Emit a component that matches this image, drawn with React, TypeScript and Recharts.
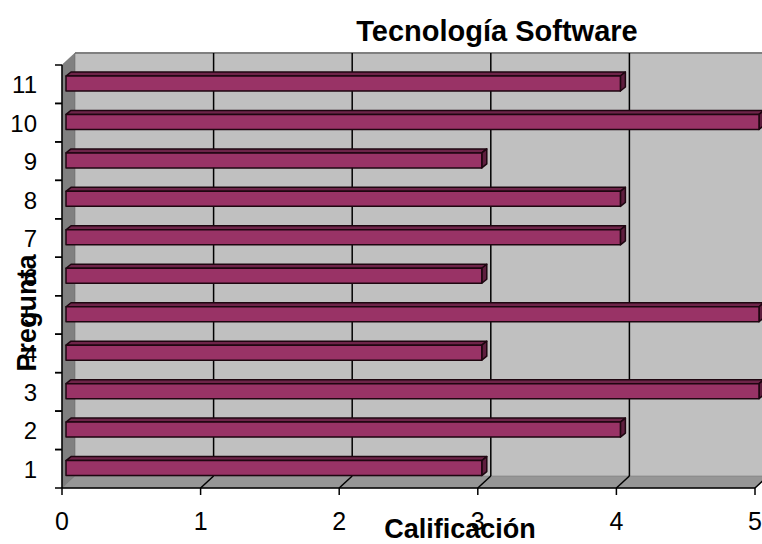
import { Bar, BarChart, ReferenceArea, XAxis, YAxis } from "recharts";

const preguntas = ["1", "2", "3", "4", "5", "6", "7", "8", "9", "10", "11"];
const calificacion = [3, 4, 5, 3, 5, 3, 4, 4, 3, 5, 4];
const xTicks = [0, 1, 2, 3, 4, 5];

const data = preguntas.map((p, i) => ({ pregunta: p, valor: calificacion[i] }));

// depth of the 3D box and of the bars
const DX = 13;
const DY = -12;
const BDX = 5;
const BDY = -4;

const FONT = "Arial, 'Liberation Sans', sans-serif";
const xMax = xTicks[xTicks.length - 1];

// back wall, left wall, floor and the gridlines on them
const Walls = (props: any) => {
  const { x, y, width, height } = props;
  const b = y + height;
  return (
    <g>
      <rect x={x + DX} y={y + DY} width={width} height={height} fill="#c0c0c0" />
      <line x1={x + DX} y1={y + DY} x2={x + DX + width} y2={y + DY} stroke="#808080" strokeWidth={2} />
      <polygon
        points={`${x},${y} ${x + DX},${y + DY} ${x + DX},${b + DY} ${x},${b}`}
        fill="#808080"
        stroke="#606060"
        strokeWidth={0.5}
      />
      <polygon
        points={`${x},${b} ${x + DX},${b + DY} ${x + DX + width},${b + DY} ${x + width},${b}`}
        fill="#969696"
        stroke="#707070"
        strokeWidth={0.5}
      />
      {xTicks.slice(1).map((t) => {
        const px = x + (t / xMax) * width;
        return (
          <g key={t}>
            <line x1={px + DX} y1={y + DY} x2={px + DX} y2={b + DY} stroke="#000" strokeWidth={1.5} />
            <line x1={px} y1={b} x2={px + DX} y2={b + DY} stroke="#000" strokeWidth={1.5} />
          </g>
        );
      })}
    </g>
  );
};

const Bar3D = (props: any) => {
  const { x, y, width, height } = props;
  const x0 = x + 4;
  const y0 = y - 1;
  const w = width;
  const h = height;
  return (
    <g stroke="#1e0610" strokeWidth={1.5} strokeLinejoin="round">
      <polygon
        points={`${x0},${y0} ${x0 + BDX},${y0 + BDY} ${x0 + w + BDX},${y0 + BDY} ${x0 + w},${y0}`}
        fill="#6e2449"
      />
      <polygon
        points={`${x0 + w},${y0} ${x0 + w + BDX},${y0 + BDY} ${x0 + w + BDX},${y0 + h + BDY} ${x0 + w},${y0 + h}`}
        fill="#5e1e3e"
      />
      <rect x={x0} y={y0} width={w} height={h} fill="#993366" />
    </g>
  );
};

const YTick = (props: any) => {
  const { x, y, payload } = props;
  const half = 423 / preguntas.length / 2;
  return (
    <g>
      <line x1={x + 1} y1={y - half} x2={x + 8} y2={y - half} stroke="#000" strokeWidth={1.5} />
      <line x1={x + 1} y1={y + half} x2={x + 8} y2={y + half} stroke="#000" strokeWidth={1.5} />
      <text x={x - 17} y={y} dy={9} textAnchor="end" fontSize={24} fontFamily={FONT} fill="#000">
        {payload.value}
      </text>
    </g>
  );
};

export default function App() {
  return (
    <div style={{ position: "absolute", left: 0, top: 0, width: 762, height: 544, background: "#fff" }}>
      <BarChart
        width={762}
        height={544}
        data={data}
        layout="vertical"
        margin={{ top: 65, right: 7, bottom: 0, left: 0 }}
        barSize={15}
      >
        <ReferenceArea x1={0} x2={5} shape={<Walls />} ifOverflow="visible" />
        <XAxis
          type="number"
          domain={[0, 5]}
          ticks={xTicks}
          interval={0}
          height={56}
          stroke="#000"
          strokeWidth={1.5}
          tickSize={7}
          tick={{ fontSize: 25, fontFamily: FONT, fill: "#000", dy: 15 }}
        />
        <YAxis
          type="category"
          dataKey="pregunta"
          reversed
          width={62}
          stroke="#000"
          strokeWidth={1.5}
          tickLine={false}
          tick={<YTick />}
          interval={0}
        />
        <Bar dataKey="valor" shape={<Bar3D />} isAnimationActive={false} />
        <text x={497} y={41} textAnchor="middle" fontSize={29} fontWeight="bold" fontFamily={FONT}>
          Tecnología Software
        </text>
        <text x={460} y={538} textAnchor="middle" fontSize={27} fontWeight="bold" fontFamily={FONT}>
          Calificación
        </text>
        <text
          x={36}
          y={313}
          transform="rotate(-90 36 313)"
          textAnchor="middle"
          fontSize={27}
          fontWeight="bold"
          fontFamily={FONT}
        >
          Pregunta
        </text>
      </BarChart>
    </div>
  );
}
